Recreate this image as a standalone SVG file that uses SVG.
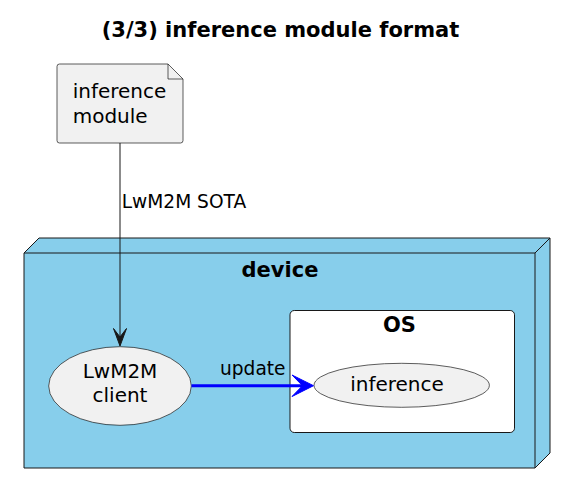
<svg xmlns="http://www.w3.org/2000/svg" width="574" height="492" viewBox="0 0 574 492">
<style>
text{font-family:"DejaVu Sans","Liberation Sans",sans-serif;fill:#000}
.t{font-size:20px}
.b{font-size:21px;font-weight:bold}
.lbl{font-size:18.6px}
.ell{fill:#F1F1F1;stroke:#181818;stroke-width:0.7}
.ln{fill:none;stroke:#181818;stroke-width:1}
</style>
<rect width="574" height="492" fill="#FFFFFF"/>
<text x="280.5" y="36.5" text-anchor="middle" style="font-size:21px;font-weight:bold">(3/3) inference module format</text>
<g id="device">
<path d="M24,253 L39,238 H550 V453 L535,468 H24 Z" fill="#87CEEB" stroke="#181818" stroke-width="1"/>
<path class="ln" d="M535,253 L550,238 M24,253 H535 V468"/>
<text class="b" x="280" y="276.7" text-anchor="middle">device</text>
</g>
<g id="OS">
<rect x="290" y="310.5" width="224.5" height="122" rx="4.3" fill="#FFFFFF" stroke="#181818" stroke-width="1"/>
<text class="b" x="399.5" y="331.7" text-anchor="middle">OS</text>
</g>
<g id="inference_module">
<path d="M59.5,64 H168 L183,79 V140.5 Q183,143 180.5,143 H59.5 Q57,143 57,140.5 V66.5 Q57,64 59.5,64 Z" fill="#F1F1F1" stroke="#181818" stroke-width="0.7"/>
<path d="M168,64 V79 H183" fill="none" stroke="#181818" stroke-width="0.7"/>
<text class="t" x="72.7" y="98.3">inference</text>
<text class="t" x="72.7" y="123.3">module</text>
</g>
<g id="lwm2m_client">
<ellipse class="ell" cx="120" cy="386" rx="71.3" ry="39.3"/>
<text class="t" x="120" y="378.3" text-anchor="middle">LwM2M</text>
<text class="t" x="120" y="401.7" text-anchor="middle">client</text>
</g>
<g id="inference">
<ellipse class="ell" cx="401.7" cy="385.3" rx="87.7" ry="22"/>
<text class="t" x="397" y="390.7" text-anchor="middle">inference</text>
</g>
<g id="connectors">
<line x1="120" y1="143" x2="120" y2="338" stroke="#181818" stroke-width="1"/>
<polygon points="120,346 113.5,328.5 120,337 126.5,328.5" fill="#181818" stroke="#181818" stroke-width="1"/>
<text class="lbl" x="121.7" y="208.3">LwM2M SOTA</text>
<line x1="191.5" y1="385.7" x2="304" y2="385.7" stroke="#0000FF" stroke-width="3"/>
<polygon points="313.5,385.7 292,375 302.5,385.7 292,396.5" fill="#0000FF" stroke="#0000FF" stroke-width="1"/>
<text class="lbl" x="220" y="375">update</text>
</g>
</svg>
